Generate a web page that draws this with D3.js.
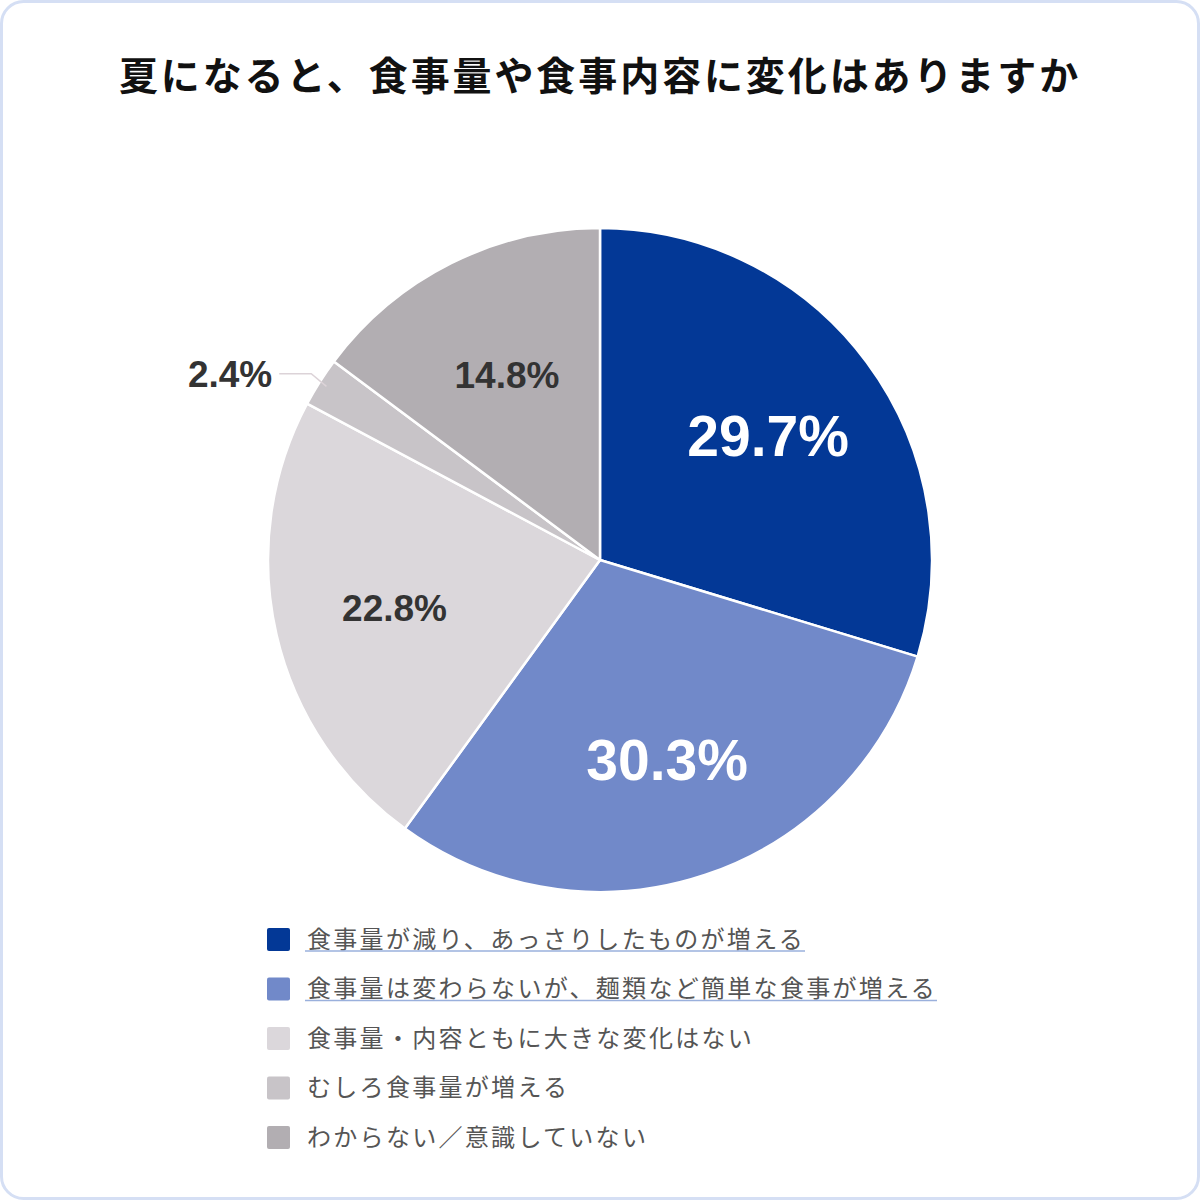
<!DOCTYPE html>
<html>
<head>
<meta charset="utf-8">
<script src="https://cdn.jsdelivr.net/npm/d3@7"></script>
<style>
  html, body { margin: 0; padding: 0; background: #fff; }
  svg { display: block; }
</style>
</head>
<body>
<svg id="chart"></svg>
<script>
// chart data
const title = '夏になると、食事量や食事内容に変化はありますか';
const categories = [
    '食事量が減り、あっさりしたものが増える',
    '食事量は変わらないが、麺類など簡単な食事が増える',
    '食事量・内容ともに大きな変化はない',
    'むしろ食事量が増える',
    'わからない／意識していない'
];
const values = [29.7, 30.3, 22.8, 2.4, 14.8];
const colors = ['#033896', '#7189c9', '#dbd7db', '#c8c4c8', '#b2aeb2'];
const underlined = [true, true, false, false, false];

const width = 1200, height = 1200;
const cx = 600, cy = 560, radius = 332;

const svg = d3.select('#chart')
    .attr('width', width)
    .attr('height', height);

// card border
svg.append('rect')
    .attr('x', 1.5).attr('y', 1.5)
    .attr('width', width - 3).attr('height', height - 3)
    .attr('rx', 22)
    .attr('fill', '#fff')
    .attr('stroke', '#d5dff4')
    .attr('stroke-width', 3);

// title
svg.append('text')
    .attr('x', width / 2)
    .attr('y', 90)
    .attr('text-anchor', 'middle')
    .style('font-family', '"Noto Sans CJK JP", "Noto Sans", sans-serif')
    .style('font-weight', 700)
    .style('font-size', '39px')
    .style('letter-spacing', '2.9px')
    .attr('fill', '#111')
    .text(title);

const data = categories.map((c, i) => ({name: c, value: values[i], color: colors[i]}));

const pie = d3.pie()
    .sort(null)
    .value(d => d.value);

const arc = d3.arc()
    .innerRadius(0)
    .outerRadius(radius);

const arcs = pie(data);

const g = svg.append('g')
    .attr('transform', `translate(${cx},${cy})`);

g.selectAll('path.slice')
    .data(arcs)
    .join('path')
    .attr('class', 'slice')
    .attr('d', arc)
    .attr('fill', d => d.data.color)
    .attr('stroke', '#fff')
    .attr('stroke-width', 2.5)
    .attr('stroke-linejoin', 'round');

// label settings per slice: radius factor, font size, color
const labelStyle = [
    {r: 0.63, size: 57, fill: '#fff'},
    {r: 0.635, size: 57, fill: '#fff'},
    {r: 0.635, size: 37, fill: '#333'},
    null,
    {r: 0.625, size: 37, fill: '#333'}
];

const labelFont = '"Liberation Sans", Arial, Helvetica, sans-serif';

arcs.forEach((d, i) => {
    const st = labelStyle[i];
    if (!st) return;
    const a = (d.startAngle + d.endAngle) / 2;
    const lx = Math.sin(a) * radius * st.r;
    const ly = -Math.cos(a) * radius * st.r;
    g.append('text')
        .attr('x', lx)
        .attr('y', ly)
        .attr('dy', '0.36em')
        .attr('text-anchor', 'middle')
        .style('font-family', labelFont)
        .style('font-weight', 700)
        .style('font-size', st.size + 'px')
        .attr('fill', st.fill)
        .text(d.data.value.toFixed(1) + '%');
});

// small slice label outside with a leader line
const small = arcs[3];
const sa = (small.startAngle + small.endAngle) / 2;
const p0 = [Math.sin(sa) * (radius - 8), -Math.cos(sa) * (radius - 8)];
const p1 = [Math.sin(sa) * (radius + 10), -Math.cos(sa) * (radius + 10) - 3];
const p2 = [p1[0] - 32, p1[1]];
g.append('polyline')
    .attr('points', [p0, p1, p2].map(p => p.join(',')).join(' '))
    .attr('fill', 'none')
    .attr('stroke', '#dcd3d8')
    .attr('stroke-width', 1.5);
g.append('text')
    .attr('x', p2[0] - 7)
    .attr('y', p2[1])
    .attr('dy', '0.36em')
    .attr('text-anchor', 'end')
    .style('font-family', labelFont)
    .style('font-weight', 700)
    .style('font-size', '37px')
    .attr('fill', '#333')
    .text(small.data.value.toFixed(1) + '%');

// legend
const legendY = d3.scalePoint()
    .domain(categories)
    .range([939, 1137]);

const legend = svg.append('g');

const rows = legend.selectAll('g.row')
    .data(data)
    .join('g')
    .attr('class', 'row')
    .attr('transform', d => `translate(267,${legendY(d.name)})`);

rows.append('rect')
    .attr('x', 0).attr('y', -11)
    .attr('width', 23).attr('height', 23)
    .attr('rx', 2)
    .attr('fill', d => d.color);

rows.append('text')
    .attr('x', 40)
    .attr('y', 0)
    .attr('dy', '0.36em')
    .style('font-family', '"Noto Sans CJK JP", "Noto Sans", sans-serif')
    .style('font-size', '24px')
    .style('letter-spacing', '2.3px')
    .attr('fill', '#555')
    .text(d => d.name)
    .each(function(d, i) {
        if (!underlined[i]) return;
        const w = this.getComputedTextLength();
        d3.select(this.parentNode).append('line')
            .attr('x1', 38).attr('x2', 40 + w)
            .attr('y1', 12).attr('y2', 12)
            .attr('stroke', '#9ab0dc')
            .attr('stroke-width', 1.5);
    });
</script>
</body>
</html>
